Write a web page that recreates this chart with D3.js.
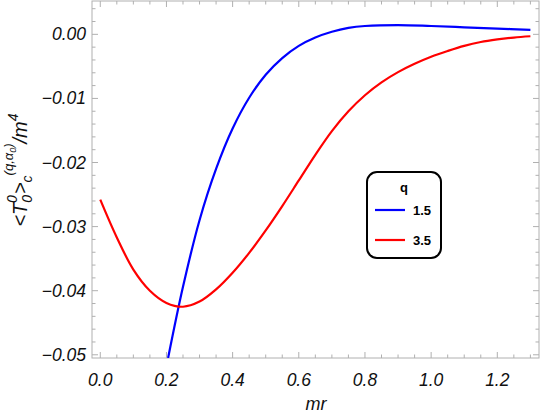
<!DOCTYPE html>
<html>
<head>
<meta charset="utf-8">
<script src="https://cdnjs.cloudflare.com/ajax/libs/d3/7.8.5/d3.min.js"></script>
<style>
  body { margin: 0; background: #fff; }
  text { font-family: "Liberation Sans", Arial, sans-serif; }
</style>
</head>
<body>
<div id="chart"></div>
<script>
// q = 1.5 (blue)
const blueX = [0.205, 0.25, 0.30, 0.35, 0.40, 0.45, 0.50, 0.55, 0.60, 0.65, 0.70, 0.75, 0.80, 0.90, 1.00, 1.10, 1.20, 1.30];
const blueY = [-0.0505, -0.0394, -0.0290, -0.0210, -0.0147, -0.0099, -0.0063, -0.0037, -0.0018, -0.0005, 0.0004, 0.0010, 0.0013, 0.00145, 0.0013, 0.0011, 0.0009, 0.0007];
// q = 3.5 (red)
const redX = [0, 0.05, 0.10, 0.15, 0.20, 0.25, 0.30, 0.35, 0.40, 0.45, 0.50, 0.55, 0.60, 0.65, 0.70, 0.75, 0.80, 0.85, 0.90, 0.95, 1.00, 1.05, 1.10, 1.15, 1.20, 1.25, 1.30];
const redY = [-0.0258, -0.0317, -0.0367, -0.0400, -0.0419, -0.0425, -0.0417, -0.0398, -0.0372, -0.0341, -0.0306, -0.0268, -0.0228, -0.0188, -0.0151, -0.0120, -0.0095, -0.0075, -0.0059, -0.0046, -0.0035, -0.0026, -0.0018, -0.0012, -0.0008, -0.0005, -0.0003];

const xTicks = [0.0, 0.2, 0.4, 0.6, 0.8, 1.0, 1.2];
const yTicks = [0.00, -0.01, -0.02, -0.03, -0.04, -0.05];
const legendLabels = ["1.5", "3.5"];
const colors = ["#0000ff", "#ff0000"];

const W = 542, H = 419;
const plotL = 92, plotR = 539, plotT = 1, plotB = 358;

const svg = d3.select("#chart").append("svg")
  .attr("width", W).attr("height", H);

const x = d3.scaleLinear().domain([-0.025, 1.326]).range([plotL, plotR]);
const y = d3.scaleLinear().domain([-0.0505, 0.0052]).range([plotB, plotT]);

const frameColor = "#b0b0b0";

// clip for curves
svg.append("clipPath").attr("id", "clip")
  .append("rect").attr("x", plotL).attr("y", plotT)
  .attr("width", plotR - plotL).attr("height", plotB - plotT);

// minor + major ticks, all four sides, pointing inward
const xMinor = d3.range(0, 1.326, 0.05);
const yMinor = d3.range(-0.05, 0.0051, 0.002);
const isMajorX = v => xTicks.some(t => Math.abs(t - v) < 1e-6);
const isMajorY = v => yTicks.some(t => Math.abs(t - v) < 1e-6);

const ticks = svg.append("g").attr("stroke", frameColor).attr("stroke-width", 1);
xMinor.forEach(v => {
  const len = isMajorX(v) ? 6 : 3.5;
  const px = x(v);
  ticks.append("line").attr("x1", px).attr("x2", px).attr("y1", plotB).attr("y2", plotB - len);
  ticks.append("line").attr("x1", px).attr("x2", px).attr("y1", plotT).attr("y2", plotT + len);
});
yMinor.forEach(v => {
  const len = isMajorY(v) ? 6 : 3.5;
  const py = y(v);
  ticks.append("line").attr("x1", plotL).attr("x2", plotL + len).attr("y1", py).attr("y2", py);
  ticks.append("line").attr("x1", plotR).attr("x2", plotR - len).attr("y1", py).attr("y2", py);
});

// frame
svg.append("rect")
  .attr("x", plotL).attr("y", plotT)
  .attr("width", plotR - plotL).attr("height", plotB - plotT)
  .attr("fill", "none").attr("stroke", frameColor).attr("stroke-width", 1);

// tick labels
svg.append("g").selectAll("text").data(xTicks).join("text")
  .attr("x", d => x(d)).attr("y", 386)
  .attr("text-anchor", "middle")
  .style("font-size", "17.5px").style("font-style", "italic").attr("fill", "#111")
  .text(d => d3.format(".1f")(d));

svg.append("g").selectAll("text").data(yTicks).join("text")
  .attr("x", 86).attr("y", d => y(d) + 6)
  .attr("text-anchor", "end")
  .style("font-size", "17.5px").style("font-style", "italic").attr("fill", "#111")
  .text(d => d === 0 ? "0.00" : "\u2212" + d3.format(".2f")(-d));

// curves
const line = d3.line().x(d => x(d[0])).y(d => y(d[1])).curve(d3.curveCatmullRom.alpha(0.5));
const series = [d3.zip(blueX, blueY), d3.zip(redX, redY)];
svg.append("g").attr("clip-path", "url(#clip)")
  .selectAll("path").data(series).join("path")
  .attr("d", line)
  .attr("fill", "none")
  .attr("stroke", (d, i) => colors[i])
  .attr("stroke-width", 2.2);

// axis titles
svg.append("text")
  .attr("x", 316).attr("y", 410)
  .attr("text-anchor", "middle")
  .style("font-size", "18px").style("font-style", "italic").attr("fill", "#111")
  .text("mr");

const yt = svg.append("text")
  .attr("transform", "translate(27,170) rotate(-90)")
  .attr("text-anchor", "middle")
  .style("font-size", "20px").style("font-style", "italic").attr("fill", "#111");
yt.append("tspan").text("<T");
yt.append("tspan").attr("dy", 5).style("font-size", "14px").text("0");
yt.append("tspan").attr("dy", -15).attr("dx", -8).style("font-size", "14px").text("0");
yt.append("tspan").attr("dy", 10).attr("dx", 1).text(">");
yt.append("tspan").attr("dy", 5).style("font-size", "14px").text("c");
yt.append("tspan").attr("dy", -19).style("font-size", "13px").text("(q,\u03b1");
yt.append("tspan").attr("dy", 3).style("font-size", "9px").text("0");
yt.append("tspan").attr("dy", -3).style("font-size", "13px").text(")");
yt.append("tspan").attr("dy", 14).text("/m");
yt.append("tspan").attr("dy", -9).style("font-size", "14px").text("4");

// legend
const lg = svg.append("g");
lg.append("rect")
  .attr("x", 367).attr("y", 172).attr("width", 74).attr("height", 86)
  .attr("rx", 10).attr("ry", 10)
  .attr("fill", "#fff").attr("stroke", "#000").attr("stroke-width", 2);
lg.append("text").attr("x", 404).attr("y", 192)
  .attr("text-anchor", "middle")
  .style("font-size", "13px").style("font-weight", "bold").text("q");
legendLabels.forEach((lab, i) => {
  const ly = 210 + i * 30;
  lg.append("line").attr("x1", 375).attr("x2", 405).attr("y1", ly).attr("y2", ly)
    .attr("stroke", colors[i]).attr("stroke-width", 2.2);
  lg.append("text").attr("x", 413).attr("y", ly + 5)
    .style("font-size", "13px").style("font-weight", "bold").text(lab);
});
</script>
</body>
</html>
